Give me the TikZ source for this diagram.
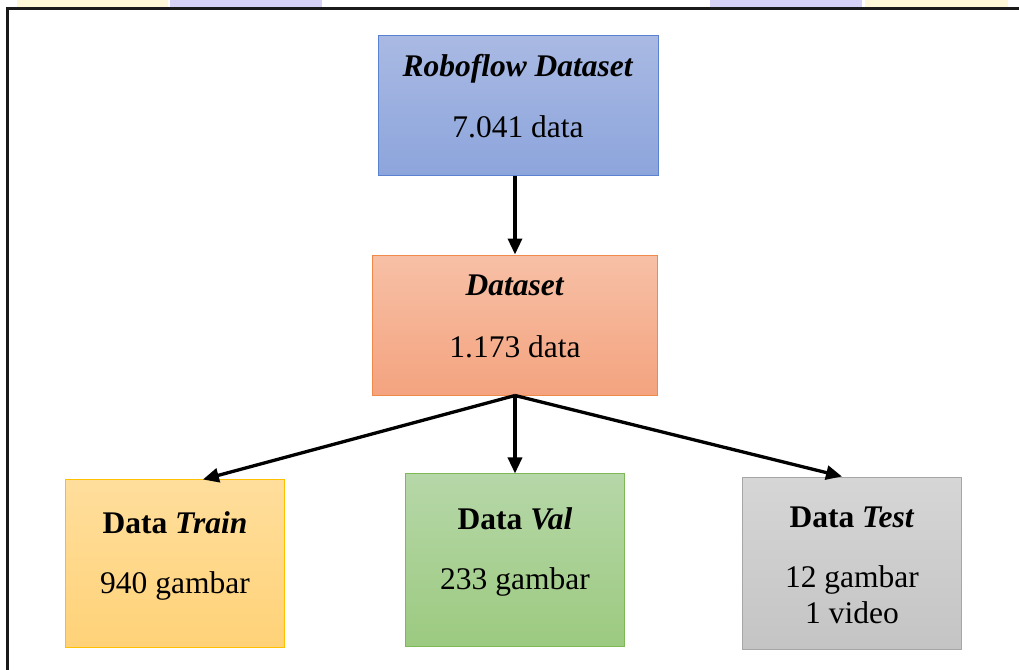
\documentclass[tikz,border=0pt]{standalone}
\usepackage{fontspec}
\setmainfont{Liberation Serif}
\usetikzlibrary{positioning,arrows.meta,calc}
\definecolor{roboTop}{HTML}{A9B9E3}
\definecolor{roboBot}{HTML}{8DA5DC}
\definecolor{roboLine}{HTML}{5B82CF}
\definecolor{dataTop}{HTML}{F7C0A6}
\definecolor{dataBot}{HTML}{F4A37F}
\definecolor{dataLine}{HTML}{F08A4B}
\definecolor{trainTop}{HTML}{FFDE9C}
\definecolor{trainBot}{HTML}{FFD278}
\definecolor{trainLine}{HTML}{FFC000}
\definecolor{valTop}{HTML}{B6D7A8}
\definecolor{valBot}{HTML}{9CCA80}
\definecolor{valLine}{HTML}{7DBA55}
\definecolor{testTop}{HTML}{D6D6D6}
\definecolor{testBot}{HTML}{C4C4C4}
\definecolor{testLine}{HTML}{A6A6A6}
\definecolor{frameDark}{HTML}{1A1A1A}
\definecolor{markYellow}{HTML}{FFF8D8}
\definecolor{markLilac}{HTML}{D6D2F6}

\begin{document}
\begin{tikzpicture}[
  main/.style={-{Triangle[length=16pt,width=14pt]}, line width=3.3pt, draw=black},
  box/.style={
    rectangle,
    draw=#1Line,
    top color=#1Top,
    bottom color=#1Bot,
    line width=1pt,
    minimum width=7.73cm,
    minimum height=6.08cm
  },
  boxtext/.style={
    align=center,
    inner sep=0pt,
    font=\fontsize{31.5}{36}\selectfont,
    text=black
  }
]
  \useasboundingbox (0,0) rectangle (35.814,23.548);

  % Page strip and frame
  \fill[markYellow] (0.60,23.30) rectangle (5.90,23.548);
  \fill[markLilac] (5.97,23.30) rectangle (11.32,23.548);
  \fill[markLilac] (24.95,23.30) rectangle (30.30,23.548);
  \fill[markYellow] (30.40,23.30) rectangle (35.43,23.548);
  \draw[frameDark, line width=2.5pt] (0.26,0) |- (35.814,23.249);

  % Source
  \node[box=robo, minimum width=9.84cm, minimum height=4.89cm] (robo) at (18.206,19.840) {};
  \node[boxtext, below=0.66cm of robo.north] (roboText)
    {\textbf{\textit{Roboflow Dataset}}\\[25pt]7.041 data};

  \node[box=data, minimum width=10.05cm, minimum height=4.92cm] (dataset) at (18.100,12.125) {};
  \node[boxtext, below=0.70cm of dataset.north] (datasetText)
    {\textbf{\textit{Dataset}}\\[26pt]1.173 data};

  % Splits
  \node[box=train, minimum height=5.87cm] (train) at (6.151,3.743) {};
  \node[boxtext, below=1.12cm of train.north] (trainText)
    {\textbf{Data \textit{Train}}\\[24pt]940 gambar};

  \node[box=val] (val) at (18.100,3.849) {};
  \node[boxtext, below=1.18cm of val.north] (valText)
    {\textbf{Data \textit{Val}}\\[24pt]233 gambar};

  \node[box=test] (test) at (29.944,3.743) {};
  \node[boxtext, below=1.05cm of test.north] (testText)
    {\textbf{Data \textit{Test}}\\[24pt]12 gambar\\1 video};

  % Flows
  \draw[main] (robo.south -| dataset.north) -- (dataset.north);
  \draw[main] (dataset.south) -- ([xshift=0.98cm]train.north);
  \draw[main] (dataset.south) -- (val.north);
  \draw[main] (dataset.south) -- ([xshift=-0.35cm]test.north);
\end{tikzpicture}
\end{document}
